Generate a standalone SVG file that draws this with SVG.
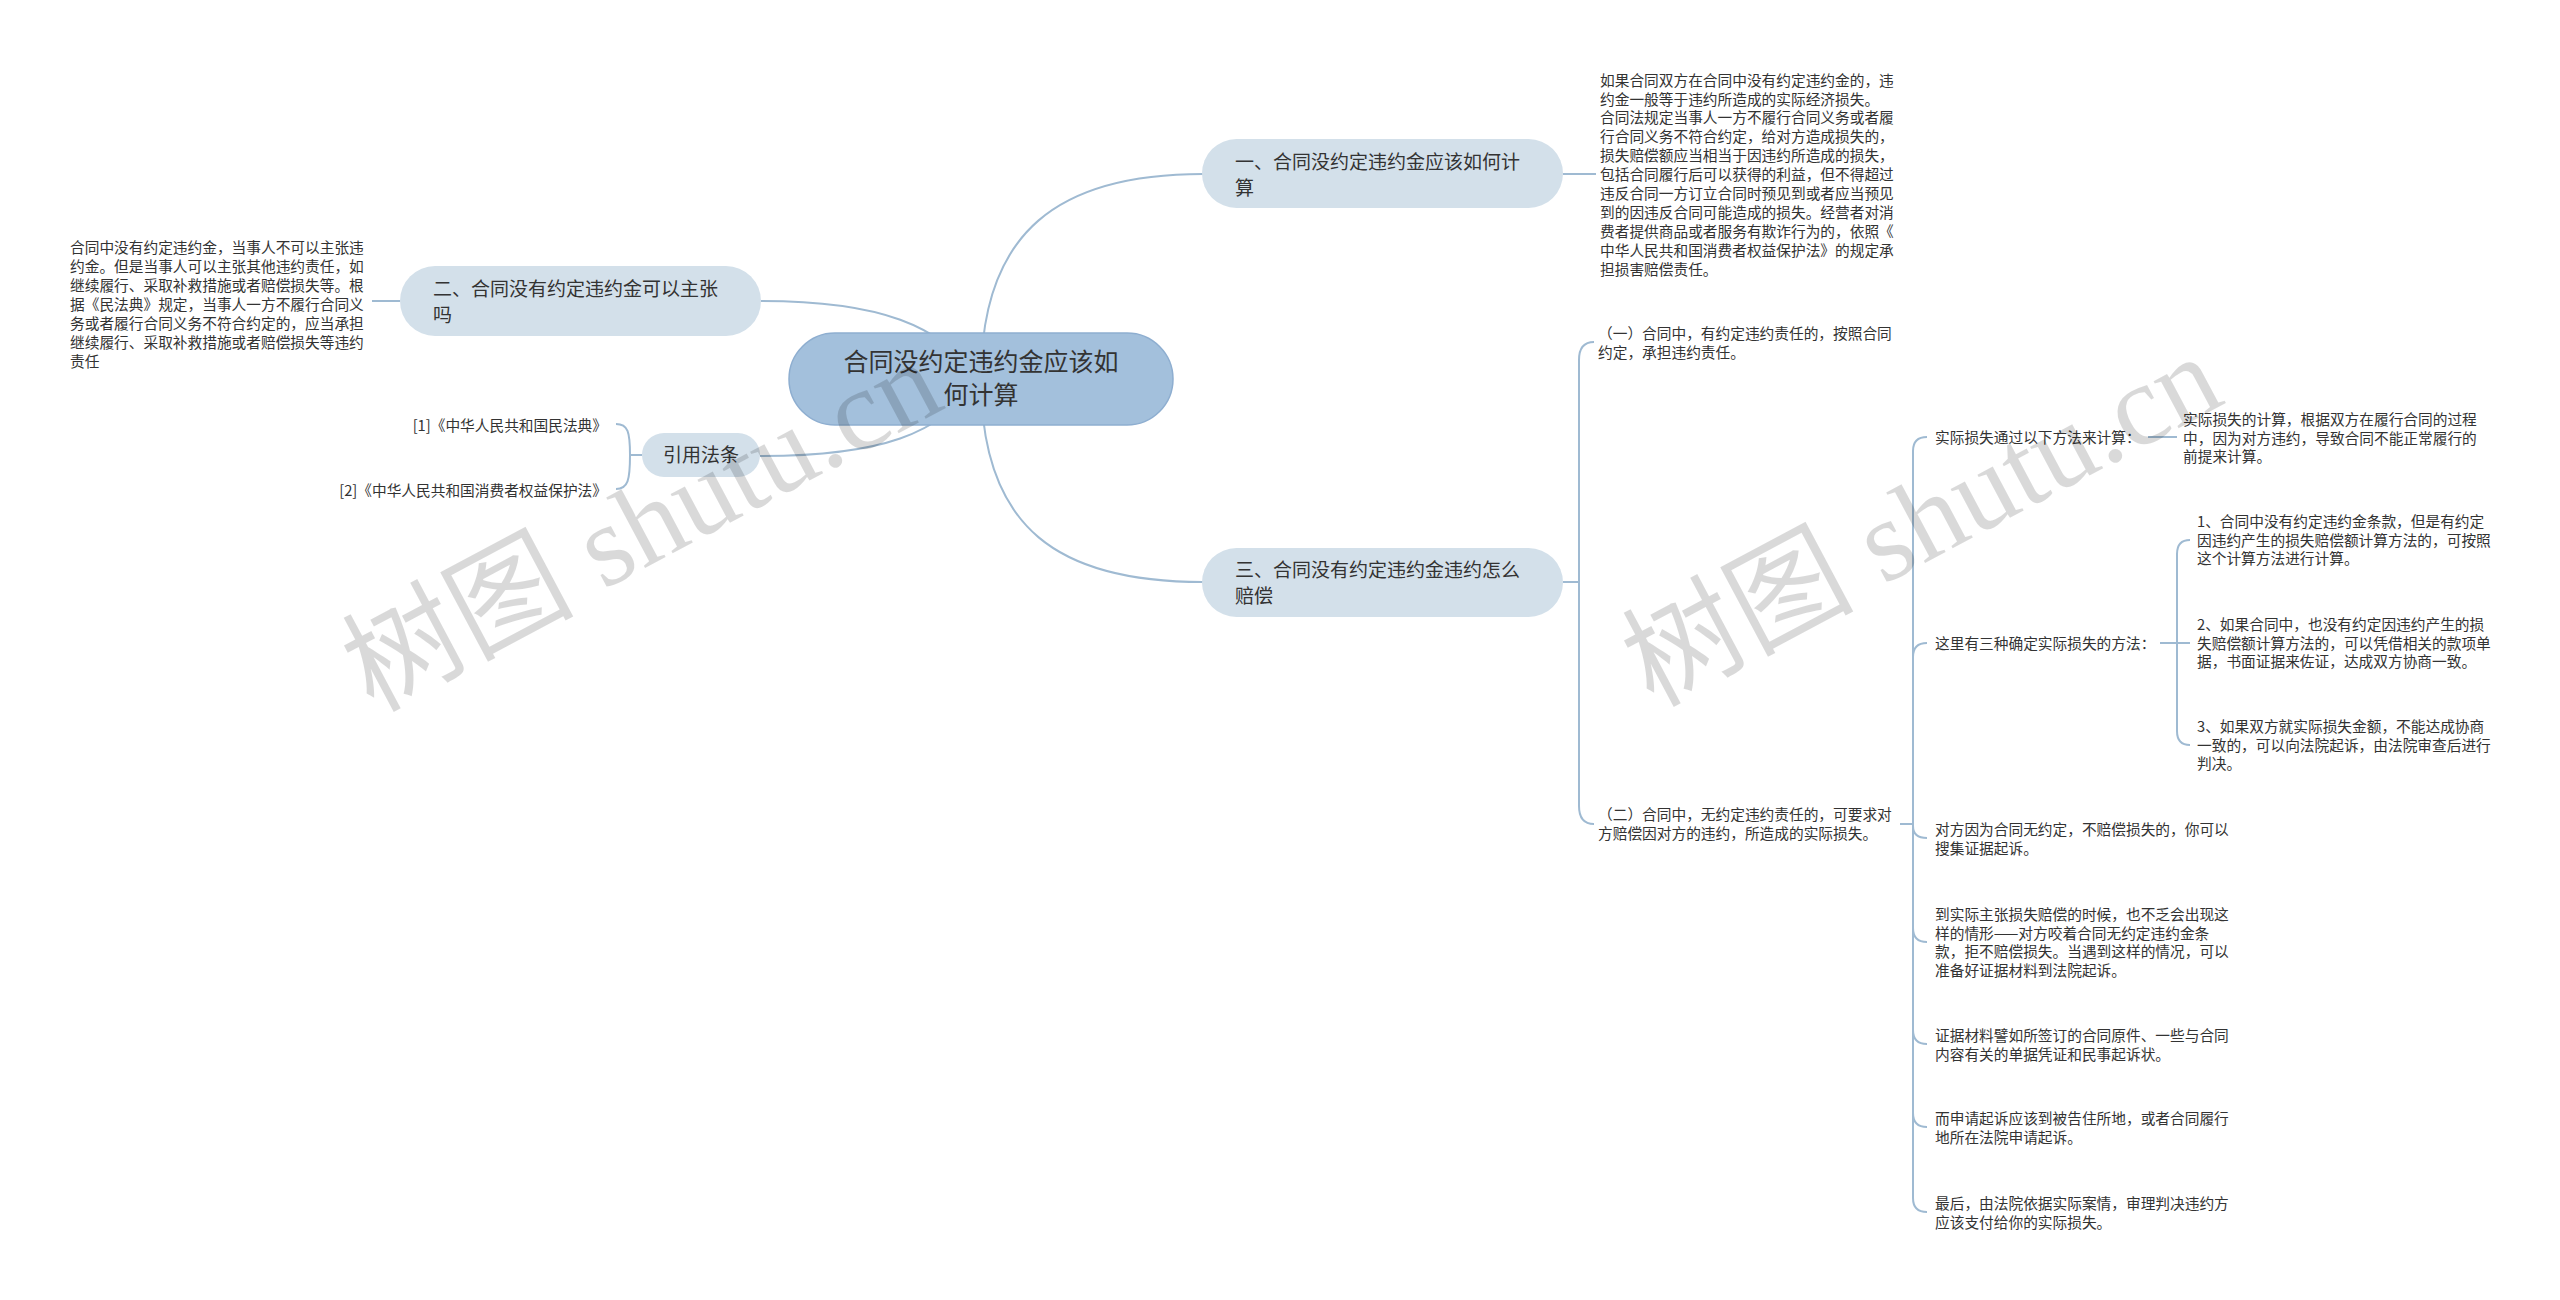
<svg xmlns="http://www.w3.org/2000/svg" width="2560" height="1300" viewBox="0 0 2560 1300">
<style>
.conn{fill:none;stroke:#9fbad2;stroke-width:2;}
.t{font-family:"Noto Sans CJK SC","Liberation Sans",sans-serif;fill:#333333;}
.leaf{font-size:14.7px;}
.sub{font-size:19px;}
.rootT{font-size:25px;}
.nodeR{fill:#d3e0ea;}
.rootR{fill:#a3c0dc;stroke:#8eaed0;stroke-width:1.5;}
.wm{font-family:"Liberation Serif","Noto Sans CJK SC",serif;font-size:116px;fill:#000000;fill-opacity:0.15;}
</style>
<rect width="2560" height="1300" fill="#ffffff"/>
<g id="connectors">
<path class="conn" d="M981 379 C981 230 1060 174 1203 174"/>
<path class="conn" d="M981 379 C981 530 1060 582 1203 582"/>
<path class="conn" d="M761 301 C880 301 940 325 981 379"/>
<path class="conn" d="M760 456 C880 456 940 435 981 379"/>
<path class="conn" d="M1563 174 H1596"/>
<path class="conn" d="M400 301 H372"/>
<path class="conn" d="M642 455 H630 C630 432 628 424 616 424"/>
<path class="conn" d="M642 455 H630 C630 480 628 489 616 489"/>
<path class="conn" d="M1563 582 H1579 V360 C1579 348 1584 342 1594 342"/>
<path class="conn" d="M1563 582 H1579 V806 C1579 818 1584 824 1594 824"/>
<path class="conn" d="M1900 824 H1913 V451 C1913 442 1917 437 1927 437"/>
<path class="conn" d="M1900 824 H1913 V657 C1913 648 1917 643 1927 643"/>
<path class="conn" d="M1900 824 H1913 V826 C1913 834 1917 838 1927 838"/>
<path class="conn" d="M1900 824 H1913 V928 C1913 937 1917 942 1927 942"/>
<path class="conn" d="M1900 824 H1913 V1030 C1913 1039 1917 1044 1927 1044"/>
<path class="conn" d="M1900 824 H1913 V1113 C1913 1122 1917 1127 1927 1127"/>
<path class="conn" d="M1900 824 H1913 V1198 C1913 1207 1917 1212 1927 1212"/>
<path class="conn" d="M2148 437 H2177"/>
<path class="conn" d="M2160 643 H2177 V554 C2177 545 2181 540 2190 540"/>
<path class="conn" d="M2160 643 H2190"/>
<path class="conn" d="M2160 643 H2177 V731 C2177 740 2181 745 2190 745"/>
</g>
<g id="root">
<rect class="rootR" x="789" y="333" width="384" height="92" rx="46"/>
<text class="t rootT" text-anchor="middle"><tspan x="981" y="370.5">合同没约定违约金应该如</tspan><tspan x="981" y="404">何计算</tspan></text>
</g>
<g id="n1">
<rect class="nodeR" x="1202" y="139" width="361" height="69" rx="34.5"/>
<text class="t sub"><tspan x="1235" y="168.5">一、合同没约定违约金应该如何计</tspan><tspan x="1235" y="194.5">算</tspan></text>
</g>
<g id="n1-leaf">
<text class="t leaf"><tspan x="1600" y="85.6">如果合同双方在合同中没有约定违约金的，违</tspan><tspan x="1600" dy="18.9">约金一般等于违约所造成的实际经济损失。</tspan><tspan x="1600" dy="18.9">合同法规定当事人一方不履行合同义务或者履</tspan><tspan x="1600" dy="18.9">行合同义务不符合约定，给对方造成损失的，</tspan><tspan x="1600" dy="18.9">损失赔偿额应当相当于因违约所造成的损失，</tspan><tspan x="1600" dy="18.9">包括合同履行后可以获得的利益，但不得超过</tspan><tspan x="1600" dy="18.9">违反合同一方订立合同时预见到或者应当预见</tspan><tspan x="1600" dy="18.9">到的因违反合同可能造成的损失。经营者对消</tspan><tspan x="1600" dy="18.9">费者提供商品或者服务有欺诈行为的，依照《</tspan><tspan x="1600" dy="18.9">中华人民共和国消费者权益保护法》的规定承</tspan><tspan x="1600" dy="18.9">担损害赔偿责任。</tspan></text>
</g>
<g id="n2">
<rect class="nodeR" x="400" y="266" width="361" height="70" rx="35"/>
<text class="t sub"><tspan x="433" y="295.5">二、合同没有约定违约金可以主张</tspan><tspan x="433" y="321.5">吗</tspan></text>
</g>
<g id="n2-leaf">
<text class="t leaf"><tspan x="70" y="252.6">合同中没有约定违约金，当事人不可以主张违</tspan><tspan x="70" dy="19">约金。但是当事人可以主张其他违约责任，如</tspan><tspan x="70" dy="19">继续履行、采取补救措施或者赔偿损失等。根</tspan><tspan x="70" dy="19">据《民法典》规定，当事人一方不履行合同义</tspan><tspan x="70" dy="19">务或者履行合同义务不符合约定的，应当承担</tspan><tspan x="70" dy="19">继续履行、采取补救措施或者赔偿损失等违约</tspan><tspan x="70" dy="19">责任</tspan></text>
</g>
<g id="cite">
<rect class="nodeR" x="642" y="433" width="118" height="44" rx="22"/>
<text class="t sub" x="701" y="462" text-anchor="middle">引用法条</text>
</g>
<g id="cite-1"><text class="t leaf" x="607" y="430.6" text-anchor="end">[1]《中华人民共和国民法典》</text></g>
<g id="cite-2"><text class="t leaf" x="607" y="495.6" text-anchor="end">[2]《中华人民共和国消费者权益保护法》</text></g>
<g id="n3">
<rect class="nodeR" x="1202" y="548" width="361" height="69" rx="34.5"/>
<text class="t sub"><tspan x="1235" y="576.5">三、合同没有约定违约金违约怎么</tspan><tspan x="1235" y="602.5">赔偿</tspan></text>
</g>
<g id="n3-a">
<text class="t leaf"><tspan x="1598" y="338.6">（一）合同中，有约定违约责任的，按照合同</tspan><tspan x="1598" dy="18.9">约定，承担违约责任。</tspan></text>
</g>
<g id="n3-b">
<text class="t leaf"><tspan x="1598" y="820">（二）合同中，无约定违约责任的，可要求对</tspan><tspan x="1598" dy="18.9">方赔偿因对方的违约，所造成的实际损失。</tspan></text>
</g>
<g id="b1"><text class="t leaf" x="1935" y="442.6">实际损失通过以下方法来计算：</text></g>
<g id="b1-a">
<text class="t leaf"><tspan x="2183" y="424.6">实际损失的计算，根据双方在履行合同的过程</tspan><tspan x="2183" dy="18.9">中，因为对方违约，导致合同不能正常履行的</tspan><tspan x="2183" dy="18.9">前提来计算。</tspan></text>
</g>
<g id="b2"><text class="t leaf" x="1935" y="648.6">这里有三种确定实际损失的方法：</text></g>
<g id="b2-1">
<text class="t leaf"><tspan x="2197" y="526.6">1、合同中没有约定违约金条款，但是有约定</tspan><tspan x="2197" dy="18.9">因违约产生的损失赔偿额计算方法的，可按照</tspan><tspan x="2197" dy="18.9">这个计算方法进行计算。</tspan></text>
</g>
<g id="b2-2">
<text class="t leaf"><tspan x="2197" y="629.6">2、如果合同中，也没有约定因违约产生的损</tspan><tspan x="2197" dy="18.9">失赔偿额计算方法的，可以凭借相关的款项单</tspan><tspan x="2197" dy="18.9">据，书面证据来佐证，达成双方协商一致。</tspan></text>
</g>
<g id="b2-3">
<text class="t leaf"><tspan x="2197" y="731.6">3、如果双方就实际损失金额，不能达成协商</tspan><tspan x="2197" dy="18.9">一致的，可以向法院起诉，由法院审查后进行</tspan><tspan x="2197" dy="18.9">判决。</tspan></text>
</g>
<g id="b3">
<text class="t leaf"><tspan x="1935" y="834.6">对方因为合同无约定，不赔偿损失的，你可以</tspan><tspan x="1935" dy="18.9">搜集证据起诉。</tspan></text>
</g>
<g id="b4">
<text class="t leaf"><tspan x="1935" y="919.6">到实际主张损失赔偿的时候，也不乏会出现这</tspan><tspan x="1935" dy="18.9">样的情形——对方咬着合同无约定违约金条</tspan><tspan x="1935" dy="18.9">款，拒不赔偿损失。当遇到这样的情况，可以</tspan><tspan x="1935" dy="18.9">准备好证据材料到法院起诉。</tspan></text>
</g>
<g id="b5">
<text class="t leaf"><tspan x="1935" y="1040.6">证据材料譬如所签订的合同原件、一些与合同</tspan><tspan x="1935" dy="18.9">内容有关的单据凭证和民事起诉状。</tspan></text>
</g>
<g id="b6">
<text class="t leaf"><tspan x="1935" y="1123.6">而申请起诉应该到被告住所地，或者合同履行</tspan><tspan x="1935" dy="18.9">地所在法院申请起诉。</tspan></text>
</g>
<g id="b7">
<text class="t leaf"><tspan x="1935" y="1208.6">最后，由法院依据实际案情，审理判决违约方</tspan><tspan x="1935" dy="18.9">应该支付给你的实际损失。</tspan></text>
</g>
<g id="watermark">
<text class="wm" text-anchor="middle" transform="translate(660 560) rotate(-28)">树图 shutu.cn</text>
<text class="wm" text-anchor="middle" transform="translate(1940 555) rotate(-28)">树图 shutu.cn</text>
</g>
</svg>
